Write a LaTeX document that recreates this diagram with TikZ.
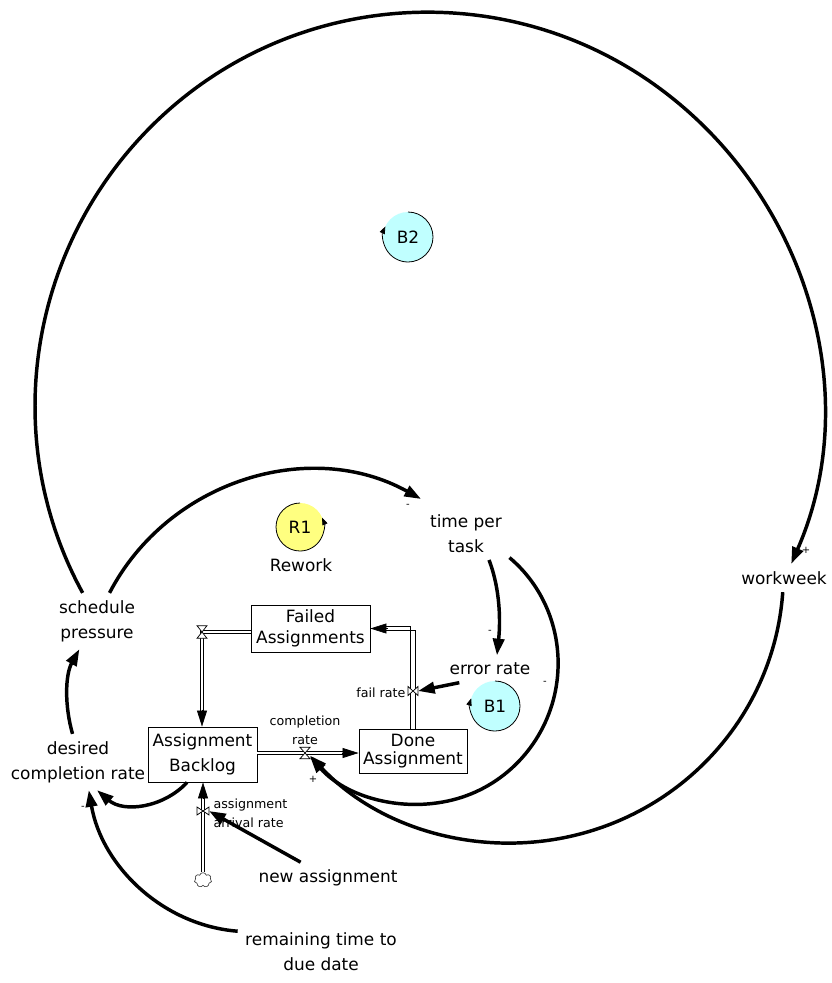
\documentclass[tikz,border=0pt]{standalone}
\usepackage{fontspec}
\setmainfont{DejaVu Sans}
\usetikzlibrary{arrows.meta,shapes.symbols,calc}
\newcommand\varfont{\fontsize{12.7}{18.5}\selectfont}
\newcommand\smallfont{\fontsize{9.5}{14.5}\selectfont}
\newcommand\signfont{\fontsize{7.5}{8}\selectfont}
\definecolor{bcyan}{HTML}{C0FFFF}
\definecolor{ryellow}{HTML}{FFFF80}
\begin{document}
\begin{tikzpicture}[x=0.75pt,y=0.75pt,
  var/.style={font=\varfont, align=center, inner sep=5.5pt},
  stock/.style={draw, line width=0.6pt, fill=white, align=center, inner sep=0pt},
  link/.style={line width=2.6pt, -{Triangle[length=12.5pt,width=8.5pt]}},
  pipe/.style={double=white, double distance=1.8pt, line width=0.5pt},
  pipeedge/.style={line width=0.5pt},
  pipetip/.style={line width=0.5pt, -{Triangle[length=12pt,width=7.5pt]}},
  valve/.style={inner sep=0pt, outer sep=0pt},
  valveline/.style={draw=black, fill=white, line width=0.55pt},
  flowlabel/.style={font=\smallfont, inner sep=1pt},
  polsign/.style={font=\signfont, inner sep=0pt},
  loopmark/.style={circle, minimum size=37.5pt, inner sep=0pt, outer sep=0pt, font=\varfont},
  looparrow/.style={line width=0.6pt, -{Triangle[length=5.5pt,width=4pt]}}
]
\useasboundingbox (0,0) rectangle (832,-983);

% stocks
\node[stock, font=\fontsize{12.7}{18.5}\selectfont, minimum width=81.75pt, minimum height=41.25pt] (bl) at (202.5,-754.5) {Assignment\\Backlog};
\node[stock, font=\fontsize{12.7}{16}\selectfont, minimum width=89.25pt, minimum height=35.25pt] (fa) at (310.5,-628.5) {Failed\\Assignments};
\node[stock, font=\fontsize{12.7}{13.5}\selectfont, minimum width=81pt, minimum height=33pt] (dn) at (413,-751) {Done\\Assignment};

% valves and cloud
\node[valve, minimum width=7.5pt, minimum height=8.5pt] (cv) at (305,-753) {};
\node[valve, minimum width=7.5pt, minimum height=9.5pt] (fv) at (202,-632) {};
\node[valve, minimum width=7.5pt, minimum height=6.75pt] (frv) at (413,-691) {};
\node[valve, minimum width=9pt, minimum height=6pt] (av) at (203,-811) {};
\node[cloud, cloud puffs=7, draw=black!75, fill=white, line width=0.5pt, minimum width=13pt, minimum height=11pt, inner sep=0pt, aspect=1.15] (cl) at (203,-880) {};

\coordinate (blin) at (fv |- bl.north);
\coordinate (dnin) at (dn.west |- cv);
\coordinate (blbot) at (av |- bl.south);

% pipes
\draw[pipe] (bl.east |- cv) -- ($(dnin)+(-15,0)$);
\draw[pipetip] ($(dnin)+(-17,0)$) -- (dnin);
\draw[pipe] (fa.west |- fv) -- (fv.center) -- ($(blin)+(0,15)$);
\draw[pipetip] ($(blin)+(0,17)$) -- (blin);
\draw[pipe] (cl.north) -- ($(blbot)+(0,-15)$);
\draw[pipetip] ($(blbot)+(0,-17)$) -- (blbot);

% valve symbols
\filldraw[valveline] (cv.north west) -- (cv.north east) -- (cv.south west) -- (cv.south east) -- cycle;
\filldraw[valveline] (fv.north west) -- (fv.north east) -- (fv.south west) -- (fv.south east) -- cycle;
\filldraw[valveline] (av.north west) -- (av.south east) -- (av.north east) -- (av.south west) -- cycle;

% variables
\node[var] (sp) at (97,-621) {schedule\\pressure};
\node[var] (dcr) at (78,-762) {desired\\completion rate};
\node[var] (tpt) at (466,-533.5) {time per\\task};
\node[var] (err) at (490,-669) {error rate};
\node[var] (ww) at (784,-578) {workweek};
\node[var] (na) at (328,-878) {new assignment};
\node[var] (rt) at (321,-952) {remaining time to\\due date};
\node[var] (rw) at (301,-565) {Rework};

% flow labels
\node[flowlabel, align=center] (crl) at (305,-730) {completion\\rate};
\node[flowlabel, anchor=east] (frl) at (407,-693) {fail rate};
\node[flowlabel, align=left, anchor=west] (arl) at (212,-813) {assignment\\arrival rate};

% loop markers
\node[loopmark, fill=bcyan] (b2) at (408,-237) {B2};
\draw[looparrow] (b2.90) arc[start angle=90, end angle=-205, radius=25];
\node[loopmark, fill=bcyan] (b1) at (495,-706) {B1};
\draw[looparrow] (b1.90) arc[start angle=90, end angle=-198, radius=25];
\node[loopmark, fill=ryellow, minimum size=36pt] (r1) at (300,-527) {R1};
\draw[looparrow] (r1.90) arc[start angle=90, end angle=383, radius=24];

% waypoints of long arcs
\coordinate (b2a) at (169.8,-109.0);
\coordinate (b2b) at (658.3,-87.4);
\coordinate (ca) at (602.5,-827.1);
\coordinate (da) at (554.5,-695.2);
\coordinate (db) at (452.6,-799.9);

% connectors
\draw[link] (sp.66) to[out=62.5,in=151,looseness=1.0] ([shift={(-11,8)}]tpt.142);
\draw[link] (sp.117) to[out=118.7,in=221.3,looseness=0.955] (b2a) to[out=41.3,in=143.8,looseness=0.955] (b2b) to[out=-36.2,in=66.4,looseness=0.955] (ww.63);
\draw[link] (ww.-95) to[out=-94,in=19.5,looseness=0.927] (ca) to[out=-160.5,in=-47,looseness=0.927] (cv.-27);
\draw[link] (tpt.-29) to[out=-40,in=77,looseness=0.919] (da) to[out=-103,in=14,looseness=0.919] (db) to[out=-166,in=-48.5,looseness=0.919] (cv.-35);
\draw[link] (tpt.-49) to[out=-69,in=84,looseness=0.87] (err.63);
\draw[link] (na.150) -- (av.east);
\draw[link] (bl.-119) to[out=-133,in=-40.6,looseness=0.99] (dcr.-56);
\draw[link] (rt.166) to[out=175.4,in=-80.3,looseness=0.95] (dcr.-69);
\draw[link] (dcr.101) to[out=106,in=241,looseness=0.885] (sp.-122);

% Done -> Failed pipe, drawn as two parallel edges
\coordinate (fabot) at (dn.north);
\coordinate (facorner) at (dn.north |- fa.east);
\draw[pipeedge] ([xshift=-1.7pt]fabot) -- ([xshift=-1.7pt,yshift=1.7pt]facorner) -- ([xshift=11pt,yshift=1.7pt]fa.east);
\draw[pipeedge] ([xshift=1.7pt]fabot) -- ([xshift=1.7pt,yshift=-1.7pt]facorner) -- ([xshift=11pt,yshift=-1.7pt]fa.east);
\draw[pipetip] ([xshift=13pt]fa.east) -- (fa.east);
\filldraw[valveline] (frv.north west) -- (frv.south east) -- (frv.north east) -- (frv.south west) -- cycle;
\draw[link] (err.-156) -- (frv.east);

% polarity signs
\node[polsign] (s1) at (408,-506) {-};
\node[polsign] (s2) at (490,-632) {-};
\node[polsign] (s3) at (545,-683) {-};
\node[polsign] (s4) at (83,-808) {-};
\node[polsign] (s5) at (313,-779) {+};
\node[polsign] (s6) at (806,-550) {+};
\end{tikzpicture}
\end{document}
